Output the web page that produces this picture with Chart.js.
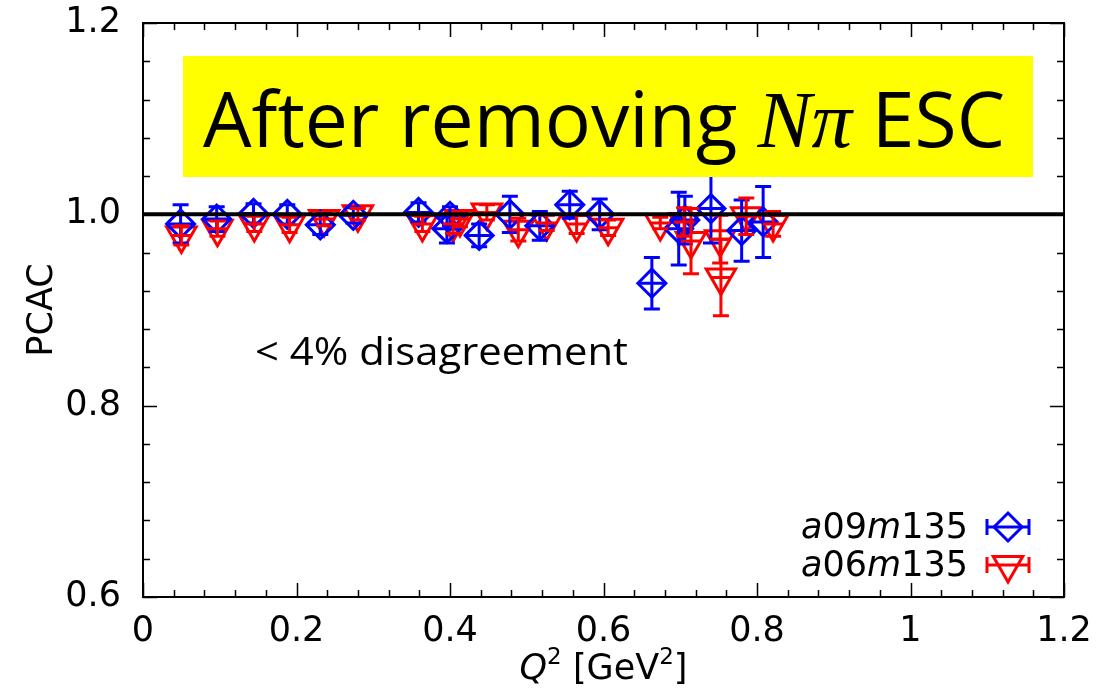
<!DOCTYPE html>
<html>
<head>
<meta charset="utf-8">
<script src="https://cdn.jsdelivr.net/npm/chart.js@4.4.0/dist/chart.umd.min.js"></script>
<style>
  html, body { margin: 0; padding: 0; background: #fff; }
  #wrap { width: 1117px; height: 690px; }
</style>
</head>
<body>
<div id="wrap"><canvas id="pcacChart"></canvas></div>
<script>
// a09m135 (bleu, losanges)
const q2A09   = [0.049, 0.096, 0.144, 0.188, 0.231, 0.274, 0.359, 0.396, 0.400, 0.438, 0.478, 0.517, 0.556, 0.595, 0.663, 0.698, 0.706, 0.740, 0.780, 0.808];
const pcacA09 = [0.990, 0.995, 1.001, 1.000, 0.989, 0.999, 1.002, 0.985, 0.998, 0.978, 1.000, 0.988, 1.010, 1.000, 0.928, 0.985, 0.994, 1.006, 0.983, 0.992];
const errA09  = [0.020, 0.013, 0.010, 0.010, 0.010, 0.008, 0.010, 0.015, 0.010, 0.012, 0.019, 0.015, 0.014, 0.016, 0.027, 0.038, 0.025, 0.036, 0.032, 0.037];

// a06m135 (rouge, triangles)
const q2A06   = [0.050, 0.097, 0.145, 0.191, 0.236, 0.280, 0.364, 0.404, 0.413, 0.448, 0.489, 0.526, 0.565, 0.606, 0.674, 0.705, 0.714, 0.752, 0.753, 0.786, 0.821];
const pcacA06 = [0.978, 0.985, 0.990, 0.989, 0.995, 1.000, 0.990, 0.990, 0.995, 1.002, 0.984, 0.991, 0.990, 0.986, 0.991, 0.992, 0.972, 0.974, 0.934, 0.998, 0.990];
const errA06  = [0.010, 0.008, 0.008, 0.008, 0.007, 0.006, 0.008, 0.010, 0.008, 0.008, 0.012, 0.008, 0.010, 0.008, 0.006, 0.015, 0.034, 0.025, 0.040, 0.019, 0.013];

const xTicks = [0, 0.2, 0.4, 0.6, 0.8, 1, 1.2];
const yTicks = [0.6, 0.8, 1.0, 1.2];
const seriesNames = ['a09m135', 'a06m135'];
const titleText = ['After removing ', 'Nπ', ' ESC'];
const noteText = '< 4% disagreement';

const BLUE = '#0000ff';
const RED = '#ff0000';
const TICK_FONT = '"DejaVu Sans", sans-serif';

function toPoints(xs, ys, es) {
    return xs.map((x, i) => ({ x: x, y: ys[i], err: es[i] }));
}

// Barres d'erreur + trait horizontal dans le symbole
const errorBars = {
    id: 'errorBars',
    afterDatasetsDraw(chart) {
        const ctx = chart.ctx;
        const xs = chart.scales.x, ys = chart.scales.y;
        chart.data.datasets.forEach(ds => {
            const half = ds.pointStyle === 'triangle' ? ds.pointRadius * 0.6 : ds.pointRadius;
            ctx.save();
            ctx.strokeStyle = ds.borderColor;
            ctx.lineWidth = 3;
            ds.data.forEach(p => {
                const px = xs.getPixelForValue(p.x);
                const py = ys.getPixelForValue(p.y);
                const top = ys.getPixelForValue(p.y + p.err);
                const bot = ys.getPixelForValue(p.y - p.err);
                ctx.beginPath();
                ctx.moveTo(px, top); ctx.lineTo(px, bot);
                ctx.moveTo(px - 8, top); ctx.lineTo(px + 8, top);
                ctx.moveTo(px - 8, bot); ctx.lineTo(px + 8, bot);
                ctx.moveTo(px - half, py); ctx.lineTo(px + half, py);
                ctx.stroke();
            });
            ctx.restore();
        });
    }
};

// Cadre, graduations, ligne y=1, textes, légende
const decorations = {
    id: 'decorations',
    afterDraw(chart) {
        const ctx = chart.ctx;
        const a = chart.chartArea;
        const xs = chart.scales.x, ys = chart.scales.y;

        ctx.save();
        // ligne PCAC = 1
        ctx.strokeStyle = '#000';
        ctx.lineWidth = 4;
        ctx.beginPath();
        ctx.moveTo(a.left, ys.getPixelForValue(1));
        ctx.lineTo(a.right, ys.getPixelForValue(1));
        ctx.stroke();

        // cadre
        ctx.lineWidth = 2;
        ctx.strokeRect(a.left, a.top, a.right - a.left, a.bottom - a.top);

        // graduations vers l'intérieur
        ctx.lineWidth = 1.5;
        ctx.beginPath();
        for (let k = 0; k <= 30; k++) {
            const v = k * 0.04;
            const px = Math.round(xs.getPixelForValue(v)) + 0.5;
            const len = k % 5 === 0 ? 14 : 7;
            ctx.moveTo(px, a.bottom); ctx.lineTo(px, a.bottom - len);
            ctx.moveTo(px, a.top); ctx.lineTo(px, a.top + len);
        }
        for (let k = 0; k <= 15; k++) {
            const v = 0.6 + k * 0.04;
            const py = Math.round(ys.getPixelForValue(v)) + 0.5;
            const len = k % 5 === 0 ? 14 : 7;
            ctx.moveTo(a.left, py); ctx.lineTo(a.left + len, py);
            ctx.moveTo(a.right, py); ctx.lineTo(a.right - len, py);
        }
        ctx.stroke();

        // titres des axes
        ctx.fillStyle = '#000';
        ctx.textBaseline = 'alphabetic';
        ctx.save();
        ctx.translate(52, (a.top + a.bottom) / 2);
        ctx.rotate(-Math.PI / 2);
        ctx.textAlign = 'center';
        ctx.font = '35px ' + TICK_FONT;
        ctx.fillText('PCAC', 0, 0);
        ctx.restore();

        const parts = [
            { t: 'Q', f: 'italic 35px ' + TICK_FONT, dy: 0 },
            { t: '2', f: '23px ' + TICK_FONT, dy: -15 },
            { t: ' [GeV', f: '35px ' + TICK_FONT, dy: 0 },
            { t: '2', f: '23px ' + TICK_FONT, dy: -15 },
            { t: ']', f: '35px ' + TICK_FONT, dy: 0 }
        ];
        let total = 0;
        parts.forEach(p => { ctx.font = p.f; p.w = ctx.measureText(p.t).width; total += p.w; });
        let cx = (a.left + a.right) / 2 - total / 2;
        ctx.textAlign = 'left';
        parts.forEach(p => { ctx.font = p.f; ctx.fillText(p.t, cx, 679 + p.dy); cx += p.w; });

        // encadré jaune
        ctx.fillStyle = '#ffff00';
        ctx.fillRect(183, 56, 850, 121);
        const segs = [
            { t: titleText[0], f: '76px "Open Sans", sans-serif' },
            { t: titleText[1], f: 'italic 80px "Liberation Serif", serif' },
            { t: titleText[2], f: '76px "Open Sans", sans-serif' }
        ];
        let tw = 0;
        segs.forEach(s => { ctx.font = s.f; s.w = ctx.measureText(s.t).width; tw += s.w; });
        const sx = 802 / tw;
        ctx.save();
        ctx.translate(203, 147);
        ctx.scale(sx, 1);
        ctx.fillStyle = '#000';
        let tx = 0;
        segs.forEach(s => { ctx.font = s.f; ctx.fillText(s.t, tx, 0); tx += s.w; });
        ctx.restore();

        // annotation
        ctx.font = '38px "Open Sans", sans-serif';
        const nw = ctx.measureText(noteText).width;
        ctx.save();
        ctx.translate(255, 365);
        ctx.scale(373 / nw, 1);
        ctx.fillStyle = '#000';
        ctx.fillText(noteText, 0, 0);
        ctx.restore();

        // légende
        const rows = [
            { name: seriesNames[0], color: BLUE, style: 'rectRot', r: 14, y: 527 },
            { name: seriesNames[1], color: RED, style: 'triangle', r: 17, y: 565 }
        ];
        rows.forEach(row => {
            const m = row.name.match(/^(a)(\d\d)(m)(\d+)$/);
            const bits = [
                { t: m[1], f: 'italic 35px ' + TICK_FONT },
                { t: m[2], f: '35px ' + TICK_FONT },
                { t: m[3], f: 'italic 35px ' + TICK_FONT },
                { t: m[4], f: '35px ' + TICK_FONT }
            ];
            let w = 0;
            bits.forEach(b => { ctx.font = b.f; b.w = ctx.measureText(b.t).width; w += b.w; });
            let bx = 968 - w;
            ctx.fillStyle = '#000';
            bits.forEach(b => { ctx.font = b.f; ctx.fillText(b.t, bx, row.y + 11); bx += b.w; });

            const sxp = 1008, syp = row.y;
            ctx.strokeStyle = row.color;
            ctx.fillStyle = 'rgba(0,0,0,0)';
            ctx.lineWidth = 3;
            ctx.beginPath();
            ctx.moveTo(987, syp); ctx.lineTo(1029, syp);
            ctx.moveTo(987, syp - 8); ctx.lineTo(987, syp + 8);
            ctx.moveTo(1029, syp - 8); ctx.lineTo(1029, syp + 8);
            ctx.stroke();
            Chart.helpers.drawPoint(ctx, {
                pointStyle: row.style, radius: row.r, borderWidth: 3,
                rotation: row.style === 'triangle' ? 180 : 0
            }, sxp, syp);
        });
        ctx.restore();
    }
};

const ctx = document.getElementById('pcacChart').getContext('2d');
const pcacChart = new Chart(ctx, {
    type: 'scatter',
    data: {
        datasets: [{
            label: seriesNames[0],
            data: toPoints(q2A09, pcacA09, errA09),
            pointStyle: 'rectRot',
            pointRadius: 14,
            borderColor: BLUE,
            backgroundColor: 'rgba(0,0,0,0)',
            borderWidth: 3
        }, {
            label: seriesNames[1],
            data: toPoints(q2A06, pcacA06, errA06),
            pointStyle: 'triangle',
            rotation: 180,
            pointRadius: 17,
            borderColor: RED,
            backgroundColor: 'rgba(0,0,0,0)',
            borderWidth: 3
        }]
    },
    options: {
        responsive: true,
        maintainAspectRatio: false,
        animation: false,
        layout: { padding: { left: 0, top: 23, right: 53, bottom: 0 } },
        plugins: {
            legend: { display: false },
            tooltip: { enabled: false }
        },
        scales: {
            x: {
                type: 'linear',
                min: xTicks[0],
                max: xTicks[xTicks.length - 1],
                afterBuildTicks: s => { s.ticks = xTicks.map(v => ({ value: v })); },
                afterFit: s => { s.height = 93; s.paddingLeft = 0; s.paddingRight = 0; },
                grid: { display: false },
                border: { display: false },
                ticks: {
                    color: '#000',
                    padding: 6,
                    maxRotation: 0,
                    font: { family: TICK_FONT, size: 35 },
                    callback: v => String(Number(v.toFixed(1)))
                }
            },
            y: {
                type: 'linear',
                min: yTicks[0],
                max: yTicks[yTicks.length - 1],
                afterBuildTicks: s => { s.ticks = yTicks.map(v => ({ value: v })); },
                afterFit: s => { s.width = 143; s.paddingTop = 0; s.paddingBottom = 0; },
                grid: { display: false },
                border: { display: false },
                ticks: {
                    color: '#000',
                    padding: 14,
                    font: { family: TICK_FONT, size: 35 },
                    callback: v => v.toFixed(1)
                }
            }
        }
    },
    plugins: [errorBars, decorations]
});
</script>
</body>
</html>
